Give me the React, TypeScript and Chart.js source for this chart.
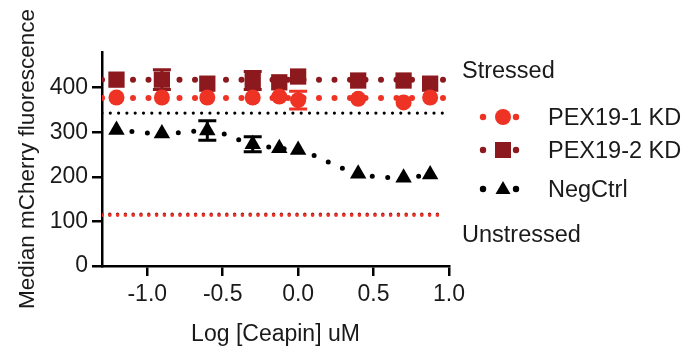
import React, { useEffect, useRef } from "react";
import { Chart, registerables } from "chart.js";

Chart.register(...registerables);

// ---- data ----
const logConc = [-1.204, -0.903, -0.602, -0.301, -0.125, 0, 0.398, 0.699, 0.875];
const pex1Values = [378, 378, 378, 378, 380, 372, 375, 367, 378];
const pex1Errors = [0, 0, 0, 0, 0, 20, 0, 0, 0];
const pex2Values = [418, 418, 409, 416, 412, 425, 416, 416, 409];
const pex2Errors = [0, 22, 0, 20, 0, 0, 0, 0, 0];
const negValues = [305, 297, 304, 273, 264, 260, 207, 198, 205];
const negErrors = [0, 0, 22, 17, 0, 0, 0, 0, 0];
const fitRange = [-1.3, 0.97];
const pex1Fit = 377;
const pex2Fit = 418;
const stressedLevel = 343;
const unstressedPex1 = 114;
const unstressedPex2 = 116;
const xTicks = [-1, -0.5, 0, 0.5, 1];
const yTicks = [0, 100, 200, 300, 400];

const RED = "rgb(238,50,36)";
const DARK = "rgb(140,25,30)";
const BLACK = "#000";
const TEXT = "#1a1a1a";
const FONT = "'Liberation Sans', Arial, Helvetica, sans-serif";

const errorBarPlugin = {
  id: "errorBars",
  beforeDatasetsDraw(chart: any) {
    const ctx = chart.ctx;
    const ys = chart.scales.y;
    chart.data.datasets.forEach((ds: any, i: number) => {
      const errs = ds.errors;
      if (!errs) return;
      const meta = chart.getDatasetMeta(i);
      meta.data.forEach((pt: any, j: number) => {
        const e = errs[j];
        if (!e) return;
        const v = ds.data[j].y;
        const top = ys.getPixelForValue(v + e);
        const bot = ys.getPixelForValue(v - e);
        ctx.save();
        ctx.strokeStyle = ds.pointBackgroundColor;
        ctx.lineWidth = 3;
        ctx.beginPath();
        ctx.moveTo(pt.x, top);
        ctx.lineTo(pt.x, bot);
        ctx.moveTo(pt.x - 9, top);
        ctx.lineTo(pt.x + 9, top);
        ctx.moveTo(pt.x - 9, bot);
        ctx.lineTo(pt.x + 9, bot);
        ctx.stroke();
        ctx.restore();
      });
    });
  },
};

const pts = (vals: number[]) => logConc.map((x, i) => ({ x, y: vals[i] }));
const flat = (v: number) => fitRange.map((x) => ({ x, y: v }));

function Icon({ shape, color }: { shape: string; color: string }) {
  let marker: any = null;
  if (shape === "circle") marker = <circle cx={27} cy={10} r={8} fill={color} />;
  if (shape === "square") marker = <rect x={19} y={2} width={16} height={16} fill={color} />;
  if (shape === "triangle") marker = <polygon points="27,2 34.5,15 19.5,15" fill={color} />;
  return (
    <svg width={48} height={20} style={{ display: "block" }}>
      <circle cx={7} cy={10} r={3.2} fill={color} />
      {marker}
      <circle cx={40} cy={10} r={3.2} fill={color} />
    </svg>
  );
}

export default function App() {
  const ref = useRef<HTMLCanvasElement | null>(null);

  useEffect(() => {
    document.body.style.margin = "0";
    const canvas = ref.current;
    if (!canvas) return;
    const dotted = (color: string, width: number, gap: number) => ({
      borderColor: color,
      backgroundColor: color,
      borderWidth: width,
      borderDash: [0, gap],
      borderCapStyle: "round" as const,
      pointRadius: 0,
      showLine: true,
      fill: false,
    });
    const chart = new Chart(canvas, {
      type: "scatter",
      data: {
        datasets: [
          {
            label: "PEX19-1 KD",
            data: pts(pex1Values),
            errors: pex1Errors,
            showLine: false,
            pointStyle: "circle",
            pointRadius: 8,
            pointBorderWidth: 0,
            pointBackgroundColor: RED,
            borderColor: RED,
            order: 1,
          } as any,
          {
            label: "PEX19-2 KD",
            data: pts(pex2Values),
            errors: pex2Errors,
            showLine: false,
            pointStyle: "rect",
            pointRadius: 11.5,
            pointBorderWidth: 0,
            pointBackgroundColor: DARK,
            borderColor: DARK,
            order: 2,
          } as any,
          {
            label: "NegCtrl",
            data: pts(negValues),
            errors: negErrors,
            showLine: true,
            ...dotted(BLACK, 5, 15.5),
            cubicInterpolationMode: "monotone",
            pointStyle: "triangle",
            pointRadius: 9.5,
            pointBorderWidth: 0,
            pointBackgroundColor: BLACK,
            order: 3,
          } as any,
          { label: "fit1", data: flat(pex1Fit), ...dotted(RED, 6, 15.5), order: 4 } as any,
          { label: "fit2", data: flat(pex2Fit), ...dotted(DARK, 6, 15.5), order: 5 } as any,
          { label: "stressed", data: flat(stressedLevel), ...dotted(BLACK, 3.2, 8.3), order: 6 } as any,
          { label: "unstressed2", data: flat(unstressedPex2), ...dotted(DARK, 3.5, 7.8), order: 8 } as any,
          { label: "unstressed1", data: flat(unstressedPex1), ...dotted(RED, 3.5, 7.8), order: 7 } as any,
        ],
      },
      options: {
        animation: false,
        responsive: false,
        layout: { padding: { left: 0, top: 52, right: 684 - 449, bottom: 0 } },
        plugins: { legend: { display: false }, tooltip: { enabled: false } },
        scales: {
          x: {
            type: "linear",
            min: -1.3,
            max: 1.0,
            afterBuildTicks: (s: any) => {
              s.ticks = xTicks.map((v) => ({ value: v }));
            },
            afterFit: (s: any) => {
              s.height = 82;
            },
            grid: { drawOnChartArea: false, drawTicks: true, tickLength: 10, color: BLACK, lineWidth: 2.5 },
            border: { display: true, color: BLACK, width: 2.5 },
            ticks: {
              color: TEXT,
              font: { family: FONT, size: 23 },
              padding: 5,
              maxRotation: 0,
              autoSkip: false,
              callback: (v: any) => Number(v).toFixed(1),
            },
            title: {
              display: true,
              text: "Log [Ceapin] uM",
              color: TEXT,
              font: { family: FONT, size: 23 },
              padding: { top: 4, bottom: 0 },
            },
          },
          y: {
            type: "linear",
            min: 0,
            max: 480,
            afterBuildTicks: (s: any) => {
              s.ticks = yTicks.map((v) => ({ value: v }));
            },
            afterFit: (s: any) => {
              s.width = 102;
            },
            grid: { drawOnChartArea: false, drawTicks: true, tickLength: 10, color: BLACK, lineWidth: 2.5 },
            border: { display: true, color: BLACK, width: 2.5 },
            ticks: {
              color: TEXT,
              font: { family: FONT, size: 23 },
              padding: 4,
              autoSkip: false,
              callback: (v: any) => String(v),
            },
            title: {
              display: true,
              text: "Median mCherry fluorescence",
              color: TEXT,
              font: { family: FONT, size: 22.5 },
              padding: { top: 14, bottom: 0 },
            },
          },
        },
      },
      plugins: [errorBarPlugin],
    } as any);
    return () => chart.destroy();
  }, []);

  const rows = [
    { label: "PEX19-1 KD", shape: "circle", color: RED, cy: 117 },
    { label: "PEX19-2 KD", shape: "square", color: DARK, cy: 150 },
    { label: "NegCtrl", shape: "triangle", color: BLACK, cy: 189 },
  ];
  const textStyle = {
    position: "absolute" as const,
    fontFamily: FONT,
    fontSize: 23.5,
    lineHeight: "26px",
    color: TEXT,
    whiteSpace: "nowrap" as const,
  };

  return (
    <div style={{ position: "fixed", left: 0, top: 0, width: 684, height: 348, background: "#fff" }}>
      <canvas ref={ref} width={684} height={348} style={{ position: "absolute", left: 0, top: 0 }} />
      <div style={{ ...textStyle, left: 462, top: 70 - 13 }}>Stressed</div>
      {rows.map((r) => (
        <React.Fragment key={r.label}>
          <div style={{ position: "absolute", left: 476, top: r.cy - 10 }}>
            <Icon shape={r.shape} color={r.color} />
          </div>
          <div style={{ ...textStyle, left: 548, top: r.cy - 13 }}>{r.label}</div>
        </React.Fragment>
      ))}
      <div style={{ ...textStyle, left: 462, top: 234 - 13 }}>Unstressed</div>
    </div>
  );
}
